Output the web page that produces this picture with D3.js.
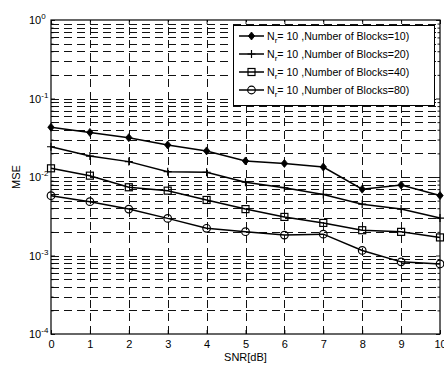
<!DOCTYPE html>
<html>
<head>
<meta charset="utf-8">
<script src="https://cdn.jsdelivr.net/npm/d3@7"></script>
<style>
  body { margin: 0; background: #fff; }
  svg { display: block; font-family: "Liberation Sans", Arial, sans-serif; }
</style>
</head>
<body>
<script>
// MSE vs SNR, log scale (MATLAB style figure)
var snr = [0, 1, 2, 3, 4, 5, 6, 7, 8, 9, 10];
var mse10 = [0.043, 0.037, 0.0317, 0.0256, 0.0215, 0.016, 0.0149, 0.0134, 0.0070, 0.0079, 0.0058];
var mse20 = [0.0243, 0.0185, 0.0157, 0.0117, 0.0115, 0.0086, 0.0073, 0.0060, 0.0045, 0.0039, 0.0030];
var mse40 = [0.0129, 0.0104, 0.0074, 0.0067, 0.0051, 0.0039, 0.0031, 0.0026, 0.0021, 0.0020, 0.0017];
var mse80 = [0.00578, 0.00485, 0.0039, 0.00297, 0.00222, 0.00201, 0.00182, 0.00187, 0.00116, 0.00083, 0.00078];
var blocks = ["10", "20", "40", "80"];
var markers = ["diamond", "plus", "square", "circle"];
var xTicks = [0, 1, 2, 3, 4, 5, 6, 7, 8, 9, 10];
var yDecades = [-4, -3, -2, -1, 0];

var series = [mse10, mse20, mse40, mse80];

var W = 444, H = 367;
var pL = 51, pR = 440, pT = 20, pB = 334;  // plot box

var x = d3.scaleLinear().domain([0, 10]).range([pL, pR]);
var y = d3.scaleLog().domain([1e-4, 1]).range([pB, pT]);

var svg = d3.select("body").append("svg")
    .attr("width", W)
    .attr("height", H);

// grid lines (dashed)
var grid = svg.append("g").attr("class", "grid")
    .attr("stroke", "#111")
    .attr("stroke-width", 1)
    .attr("stroke-dasharray", "8,5")
    .attr("fill", "none");

var yGrid = [];
var yMinor = [];
yDecades.forEach(function (e) {
    for (var m = 1; m <= 9; m++) {
        var v = m * Math.pow(10, e);
        if (v > 1e-4 && v < 1) yGrid.push(v);
        if (m > 1 && v < 1) yMinor.push(v);
    }
});
var yMajor = yDecades.map(function (e) { return Math.pow(10, e); });

grid.selectAll(".hg").data(yGrid).enter().append("line")
    .attr("x1", pL).attr("x2", pR)
    .attr("y1", function (d) { return Math.round(y(d)) + 0.5; })
    .attr("y2", function (d) { return Math.round(y(d)) + 0.5; });
grid.selectAll(".vg").data(xTicks.slice(1, -1)).enter().append("line")
    .attr("y1", pB).attr("y2", pT)
    .attr("x1", function (d) { return Math.round(x(d)) + 0.5; })
    .attr("x2", function (d) { return Math.round(x(d)) + 0.5; });

// axes, ticks inward
var xAxis = svg.append("g")
    .attr("transform", "translate(0," + pB + ")")
    .call(d3.axisBottom(x).tickValues(xTicks).tickSizeInner(-4).tickSizeOuter(0).tickPadding(6));
svg.append("g")
    .attr("transform", "translate(0," + pT + ")")
    .call(d3.axisTop(x).tickValues(xTicks).tickSizeInner(-4).tickSizeOuter(0).tickFormat(""));

var yAxis = svg.append("g")
    .attr("transform", "translate(" + pL + ",0)")
    .call(d3.axisLeft(y).tickValues(yMajor).tickSizeInner(-4).tickSizeOuter(0).tickFormat(""));
svg.append("g")
    .attr("transform", "translate(" + pL + ",0)")
    .call(d3.axisLeft(y).tickValues(yMinor).tickSizeInner(-2.5).tickSizeOuter(0).tickFormat(""));
svg.append("g")
    .attr("transform", "translate(" + pR + ",0)")
    .call(d3.axisRight(y).tickValues(yMajor).tickSizeInner(-4).tickSizeOuter(0).tickFormat(""));
svg.append("g")
    .attr("transform", "translate(" + pR + ",0)")
    .call(d3.axisRight(y).tickValues(yMinor).tickSizeInner(-2.5).tickSizeOuter(0).tickFormat(""));

svg.selectAll(".domain").remove();
svg.selectAll(".tick line").attr("stroke", "#000").attr("stroke-width", 0.9);
xAxis.selectAll("text").attr("font-size", 11).attr("fill", "#000")
    .attr("font-family", "Liberation Sans, Arial, sans-serif");

// y tick labels 10^e
yAxis.selectAll(".tick").append("text")
    .attr("x", -22)
    .attr("dy", "0.35em")
    .attr("text-anchor", "start")
    .attr("font-size", 11)
    .attr("font-family", "Liberation Sans, Arial, sans-serif")
    .attr("fill", "#000")
    .each(function (d) {
        var t = d3.select(this);
        t.append("tspan").text("10");
        t.append("tspan").attr("dy", -5).attr("font-size", 8).text(Math.round(Math.log10(d)));
    });

// box
svg.append("rect")
    .attr("x", pL).attr("y", pT)
    .attr("width", pR - pL).attr("height", pB - pT)
    .attr("fill", "none").attr("stroke", "#000").attr("stroke-width", 1.2);

// markers
function drawMarker(g, type, cx, cy) {
    if (type === "diamond") {
        g.append("path")
            .attr("d", "M" + cx + "," + (cy - 4) + "L" + (cx + 3.2) + "," + cy + "L" + cx + "," + (cy + 4) + "L" + (cx - 3.2) + "," + cy + "Z")
            .attr("fill", "#000").attr("stroke", "#000").attr("stroke-width", 0.8);
    } else if (type === "plus") {
        g.append("path")
            .attr("d", "M" + (cx - 4) + "," + cy + "H" + (cx + 4) + "M" + cx + "," + (cy - 4) + "V" + (cy + 4))
            .attr("stroke", "#000").attr("stroke-width", 1.2);
    } else if (type === "square") {
        g.append("rect")
            .attr("x", cx - 3.5).attr("y", cy - 3.5).attr("width", 7).attr("height", 7)
            .attr("fill", "none").attr("stroke", "#000").attr("stroke-width", 1.2);
    } else {
        g.append("circle")
            .attr("cx", cx).attr("cy", cy).attr("r", 3.8)
            .attr("fill", "none").attr("stroke", "#000").attr("stroke-width", 1.2);
    }
}

var line = d3.line()
    .x(function (d, i) { return x(snr[i]); })
    .y(function (d) { return y(d); });

series.forEach(function (s, k) {
    var g = svg.append("g");
    g.append("path")
        .datum(s)
        .attr("d", line)
        .attr("fill", "none")
        .attr("stroke", "#000")
        .attr("stroke-width", 1.5);
    s.forEach(function (v, i) {
        drawMarker(g, markers[k], x(snr[i]), y(v));
    });
});

// axis titles
svg.append("text")
    .attr("x", (pL + pR) / 2).attr("y", 361)
    .attr("text-anchor", "middle").attr("font-size", 11)
    .text("SNR[dB]");
svg.append("text")
    .attr("transform", "translate(20," + ((pT + pB) / 2) + ") rotate(-90)")
    .attr("text-anchor", "middle").attr("font-size", 11)
    .text("MSE");

// legend
var lg = svg.append("g");
lg.append("rect")
    .attr("x", 233.5).attr("y", 25.5).attr("width", 201).attr("height", 80)
    .attr("fill", "#fff").attr("stroke", "#000").attr("stroke-width", 1);
blocks.forEach(function (b, k) {
    var ly = 36 + k * 18;
    lg.append("line")
        .attr("x1", 239).attr("x2", 264).attr("y1", ly).attr("y2", ly)
        .attr("stroke", "#000").attr("stroke-width", 1.5);
    drawMarker(lg, markers[k], 251.5, ly);
    var t = lg.append("text")
        .attr("x", 267).attr("y", ly + 4)
        .attr("font-size", 10.6).attr("fill", "#000");
    t.append("tspan").text("N");
    t.append("tspan").attr("dy", 3).attr("font-size", 8).text("r");
    t.append("tspan").attr("dy", -3).text("= 10 ,Number of Blocks=" + b + ")");
});
</script>
</body>
</html>
